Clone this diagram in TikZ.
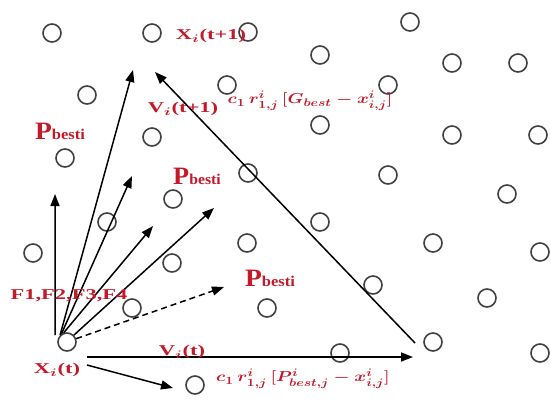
\documentclass[tikz,border=0pt]{standalone}
\usepackage{amsmath}
\usepackage{amssymb}
\usepackage{xcolor}
\usepackage{graphicx}
\usepackage{fontspec}
\setmainfont{Liberation Serif}
\usepackage{tikz}
\usetikzlibrary{arrows.meta, calc}

\definecolor{lblred}{RGB}{195,25,40}
\newcommand{\wide}[2][1.6]{\scalebox{#1}[1]{#2}}
\newcommand{\pbest}{{\fontsize{25}{25}\selectfont P}{\fontsize{15}{15}\selectfont besti}}

\tikzset{
  dot/.style={circle, draw=black!75, line width=1.6pt, minimum size=18pt, inner sep=0pt},
  lbl/.style={text=lblred, font=\bfseries\boldmath\fontsize{15}{15}\selectfont, inner sep=0pt},
  vec/.style={line width=1.5pt, -{Triangle[length=12pt,width=9pt]}}
}

\begin{document}
\begin{tikzpicture}[x=1pt, y=1pt]
\useasboundingbox (0,0) rectangle (551,-399);

% swarm particles
\foreach \px/\py [count=\i] in {52/33, 152/33, 248/32, 410/22, 320/55, 452/63, 518/63,
    87/95, 227/85, 388/85, 320/125, 452/135, 538/135, 152/137, 65/158, 248/173,
    388/175, 507/194, 173/199, 107/222, 320/222, 33/253, 172/263, 247/243,
    433/243, 540/252, 373/285, 487/298, 132/308, 267/308, 433/342, 340/353,
    540/353, 195/385}
  \node[dot] (p\i) at (\px,-\py) {};
\node[dot] (xt) at (67,-342) {};

% arrow ends
\coordinate (xnext) at (133,-70);
\coordinate (gtip) at (155,-72);
\coordinate (gstart) at (415,-343);
\coordinate (vstart) at (87,-357);
\coordinate (vtip) at (413,-357);
\coordinate (cstart) at (87,-365);
\coordinate (ctip) at (173,-388);
\coordinate (f1) at (55,-194);
\coordinate (f2) at (132,-176);
\coordinate (f3) at (153,-226);
\coordinate (f4) at (214,-208);
\coordinate (pb) at (224,-287);

% velocity and new position
\draw[vec] (xt.north west) -- (xnext);
\draw[vec] (gstart) -- (gtip);
\draw[vec] (vstart) -- (vtip);
\draw[vec] (cstart) -- (ctip);

% fan of personal bests
\draw[vec] ([xshift=-5pt]xt.north west) -- (f1);
\draw[vec] (xt.125) -- (f2);
\draw[vec] (xt.110) -- (f3);
\draw[vec] (xt.45) -- (f4);
\draw[vec, dash pattern=on 6pt off 4pt] (xt.20) -- (pb);

% labels
\node[lbl] (lxnext) at (211,-36) {\wide[1.5]{X$_i$(t+1)}};
\node[lbl] (lvnext) at (183,-109) {\wide[1.5]{V$_i$(t+1)}};
\node[lbl] (lgbest) at (310,-101) {\wide[1.25]{$c_1\, r^i_{1,j}\,[G_{best} - x^i_{i,j}]$}};
\node[lbl] (lpb1) at (60,-131) {\wide[1.1]{\pbest}};
\node[lbl] (lpb2) at (197,-176) {\wide[1.05]{\pbest}};
\node[lbl] (lpb3) at (270,-278) {\wide[1.1]{\pbest}};
\node[lbl] (lf) at (69,-296) {\wide[1.5]{F1,F2,F3,F4}};
\node[lbl] (lxt) at (57,-370) {\wide[1.5]{X$_i$(t)}};
\node[lbl] (lvt) at (182,-352) {\wide[1.5]{V$_i$(t)}};
\node[lbl] (lpbest) at (303,-379) {\wide[1.25]{$c_1\, r^i_{1,j}\,[P^i_{best,j} - x^i_{i,j}]$}};
\end{tikzpicture}
\end{document}
